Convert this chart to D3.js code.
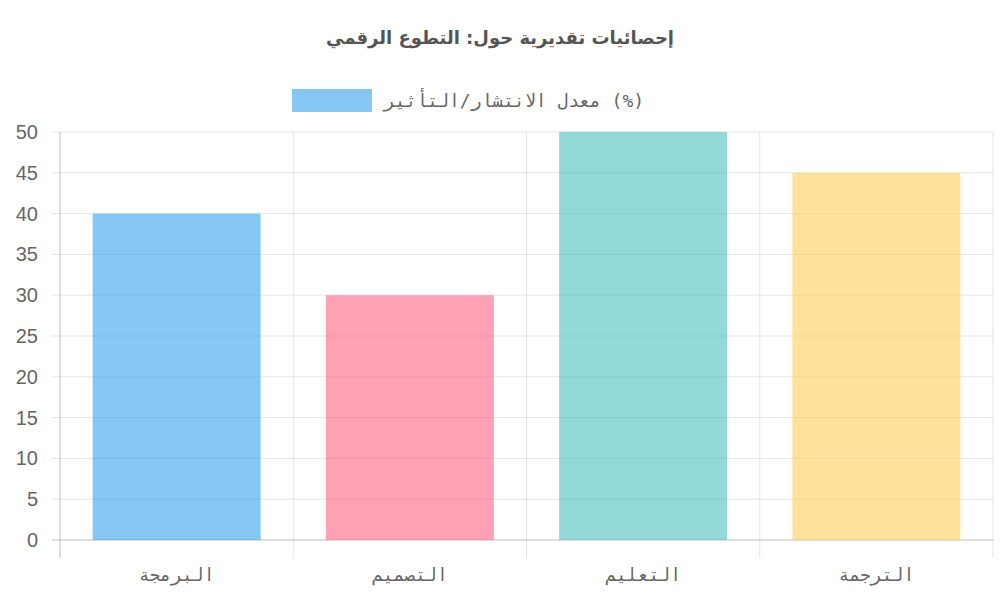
<!DOCTYPE html>
<html><head><meta charset="utf-8">
<script src="https://cdn.jsdelivr.net/npm/d3@7"></script>
<style>body{margin:0;background:#fff}</style>
</head><body>
<script>
const categories = ["البرمجة", "التصميم", "التعليم", "الترجمة"]
const values = [40, 30, 50, 45]
const colors = ["rgba(54,162,235,0.6)", "rgba(255,99,132,0.6)", "rgba(75,192,192,0.6)", "rgba(255,206,86,0.6)"]
const yTicks = [0, 5, 10, 15, 20, 25, 30, 35, 40, 45, 50]
const seriesLabel = "معدل الانتشار/التأثير (%)"
const title = "إحصائيات تقديرية حول: التطوع الرقمي"

const chart = function () {
  let width = 1000, height = 600
  let mLeft = 60, mRight = 993, mTop = 132, mBottom = 540

  let svg = d3.select("body").append("svg")
      .attr("width", width).attr("height", height)

  let x = d3.scaleBand().domain(categories).range([mLeft, mRight])
  let y = d3.scaleLinear().domain([0, 50]).range([mBottom, mTop])

  // horizontal grid
  svg.selectAll(".hg").data(yTicks).enter().append("line")
      .attr("x1", mLeft - 8).attr("x2", mRight)
      .attr("y1", d => y(d)).attr("y2", d => y(d))
      .attr("stroke", d => d === 0 ? "rgba(0,0,0,0.25)" : "rgba(0,0,0,0.1)")

  // vertical grid
  let vx = categories.map(c => x(c)).concat([mRight])
  svg.selectAll(".vg").data(vx).enter().append("line")
      .attr("x1", d => d).attr("x2", d => d)
      .attr("y1", mTop).attr("y2", mBottom + 18)
      .attr("stroke", (d, i) => i === 0 ? "rgba(0,0,0,0.25)" : "rgba(0,0,0,0.1)")

  svg.selectAll(".yt").data(yTicks).enter().append("text")
      .attr("x", mLeft - 22).attr("y", d => y(d)).attr("dy", "0.35em")
      .attr("text-anchor", "end")
      .attr("font-family", "Liberation Sans, Arial").attr("font-size", 20).attr("fill", "#666")
      .text(d => d)

  let bw = x.bandwidth() * 0.72
  svg.selectAll(".bar").data(values).enter().append("rect")
      .attr("x", (d, i) => x(categories[i]) + (x.bandwidth() - bw) / 2)
      .attr("width", bw)
      .attr("y", d => y(d)).attr("height", d => y(0) - y(d))
      .attr("fill", (d, i) => colors[i])

  svg.selectAll(".xt").data(categories).enter().append("text")
      .attr("x", d => x(d) + x.bandwidth() / 2).attr("y", 575).attr("dy", "0.35em")
      .attr("text-anchor", "middle")
      .attr("font-family", "DejaVu Sans Mono, monospace").attr("font-size", 18).attr("fill", "#666")
      .text(d => d)

  svg.append("text").attr("x", 500).attr("y", 38).attr("dy", "0.35em")
      .attr("text-anchor", "middle").attr("font-family", "DejaVu Sans, sans-serif")
      .attr("font-weight", "bold").attr("font-size", 18).attr("fill", "#555")
      .text(title)

  svg.append("rect").attr("x", 292).attr("y", 89).attr("width", 80).attr("height", 23)
      .attr("fill", colors[0])
  svg.append("text").attr("x", 384).attr("y", 101).attr("dy", "0.35em")
      .attr("text-anchor", "start")
      .attr("font-family", "DejaVu Sans Mono, monospace").attr("font-size", 18).attr("fill", "#666")
      .text(seriesLabel)
}
chart()
</script>
</body></html>
